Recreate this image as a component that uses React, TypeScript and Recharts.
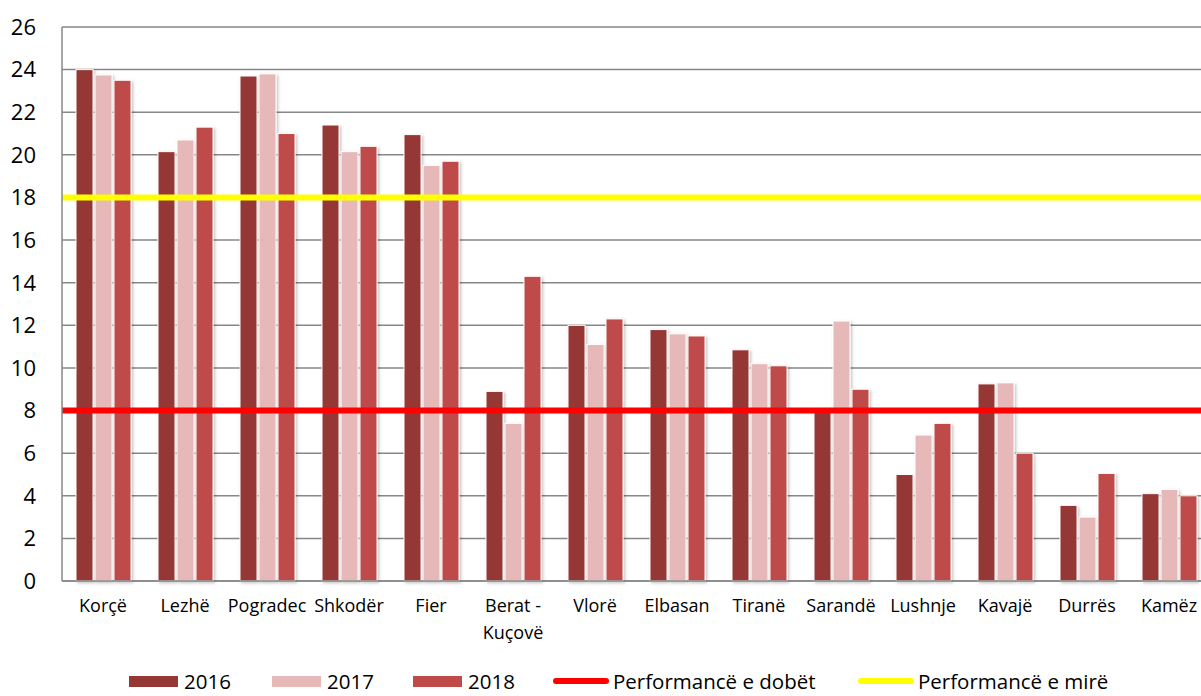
import React from 'react';
import {
    BarChart,
    Bar,
    XAxis,
    YAxis,
    CartesianGrid,
    ReferenceLine
} from 'recharts';

// categories and values
const cities = [
    'Korçë', 'Lezhë', 'Pogradec', 'Shkodër', 'Fier', 'Berat - Kuçovë', 'Vlorë',
    'Elbasan', 'Tiranë', 'Sarandë', 'Lushnje', 'Kavajë', 'Durrës', 'Kamëz'
];
const values2016 = [24.0, 20.15, 23.7, 21.4, 20.95, 8.9, 12.0, 11.8, 10.85, 8.1, 5.0, 9.25, 3.55, 4.1];
const values2017 = [23.75, 20.7, 23.8, 20.15, 19.5, 7.4, 11.1, 11.6, 10.2, 12.2, 6.85, 9.3, 3.0, 4.3];
const values2018 = [23.5, 21.3, 21.0, 20.4, 19.7, 14.3, 12.3, 11.5, 10.1, 9.0, 7.4, 6.0, 5.05, 4.0];
const yTicks = [0, 2, 4, 6, 8, 10, 12, 14, 16, 18, 20, 22, 24, 26];
const weakLevel = 8;
const goodLevel = 18;

const COLORS = {
    y2016: '#953735',
    y2017: '#E6B9B8',
    y2018: '#BE4B48',
    weak: '#FF0000',
    good: '#FFFF00',
    grid: '#878787'
};

const FONT = '"Open Sans", "Noto Sans", sans-serif';

const data = cities.map((city, i) => ({
    city,
    y2016: values2016[i],
    y2017: values2017[i],
    y2018: values2018[i]
}));

const ShadowBar = (props: any) => {
    const { x, y, width, height, fill } = props;
    if (!height || height <= 0) return null;
    return (
        <rect
            x={x}
            y={y}
            width={width}
            height={height}
            fill={fill}
            stroke="#ffffff"
            strokeWidth={1}
            filter="url(#barShadow)"
        />
    );
};

const CityTick = (props: any) => {
    const { x, y, payload } = props;
    const label: string = payload.value;
    const lines = label.includes(' - ') ? label.replace(' - ', ' -\n').split('\n') : [label];
    return (
        <text x={x} y={y + 31} textAnchor="middle" fontSize={18} fill="#000" fontFamily={FONT}>
            {lines.map((line, i) => (
                <tspan key={i} x={x} dy={i === 0 ? 0 : 27}>{line}</tspan>
            ))}
        </text>
    );
};

const legendItems = [
    { label: '2016', color: COLORS.y2016, kind: 'box', left: 129 },
    { label: '2017', color: COLORS.y2017, kind: 'box', left: 272 },
    { label: '2018', color: COLORS.y2018, kind: 'box', left: 413 },
    { label: 'Performancë e dobët', color: COLORS.weak, kind: 'line', left: 553 },
    { label: 'Performancë e mirë', color: COLORS.good, kind: 'line', left: 858 }
];

const ChartLegend = () => (
    <div style={{ position: 'absolute', left: 0, top: 670, width: 1201, height: 22 }}>
        {legendItems.map(item => (
            <div
                key={item.label}
                style={{ position: 'absolute', left: item.left, top: 0, display: 'flex', alignItems: 'center', height: 22 }}
            >
                {item.kind === 'box' ? (
                    <div style={{ width: 49, height: 11, background: item.color, marginRight: 6 }} />
                ) : (
                    <div style={{ width: 56, height: 6, borderRadius: 3, background: item.color, marginRight: 4 }} />
                )}
                <span style={{ fontFamily: FONT, fontSize: 20.5, color: '#000', lineHeight: '22px' }}>{item.label}</span>
            </div>
        ))}
    </div>
);

export default function App() {
    return (
        <div style={{ position: 'absolute', left: 0, top: 0, width: 1201, height: 696, overflow: 'hidden', background: '#fff' }}>
            <BarChart
                width={1210}
                height={696}
                data={data}
                margin={{ top: 27, right: 0, left: 0, bottom: 0 }}
                barSize={17}
                barGap={2}
            >
                <defs>
                    <filter id="barShadow" x="-30%" y="-10%" width="160%" height="130%">
                        <feDropShadow dx="1.5" dy="1.5" stdDeviation="1.5" floodColor="#000" floodOpacity="0.25" />
                    </filter>
                </defs>
                <CartesianGrid vertical={false} stroke={COLORS.grid} strokeWidth={1.5} />
                <XAxis
                    dataKey="city"
                    height={115}
                    interval={0}
                    tickLine={false}
                    tickSize={0}
                    tickMargin={0}
                    axisLine={{ stroke: COLORS.grid, strokeWidth: 1.5 }}
                    tick={<CityTick />}
                />
                <YAxis
                    width={62}
                    domain={[0, 26]}
                    ticks={yTicks}
                    interval={0}
                    tickLine={false}
                    tickSize={0}
                    tickMargin={26}
                    axisLine={{ stroke: COLORS.grid, strokeWidth: 1.5 }}
                    tick={{ fontSize: 22, fill: '#000', fontFamily: FONT }}
                />
                <Bar dataKey="y2016" fill={COLORS.y2016} shape={ShadowBar} isAnimationActive={false} />
                <Bar dataKey="y2017" fill={COLORS.y2017} shape={ShadowBar} isAnimationActive={false} />
                <Bar dataKey="y2018" fill={COLORS.y2018} shape={ShadowBar} isAnimationActive={false} />
                <ReferenceLine y={weakLevel} stroke={COLORS.weak} strokeWidth={6} />
                <ReferenceLine y={goodLevel} stroke={COLORS.good} strokeWidth={6} />
            </BarChart>
            <ChartLegend />
        </div>
    );
}
